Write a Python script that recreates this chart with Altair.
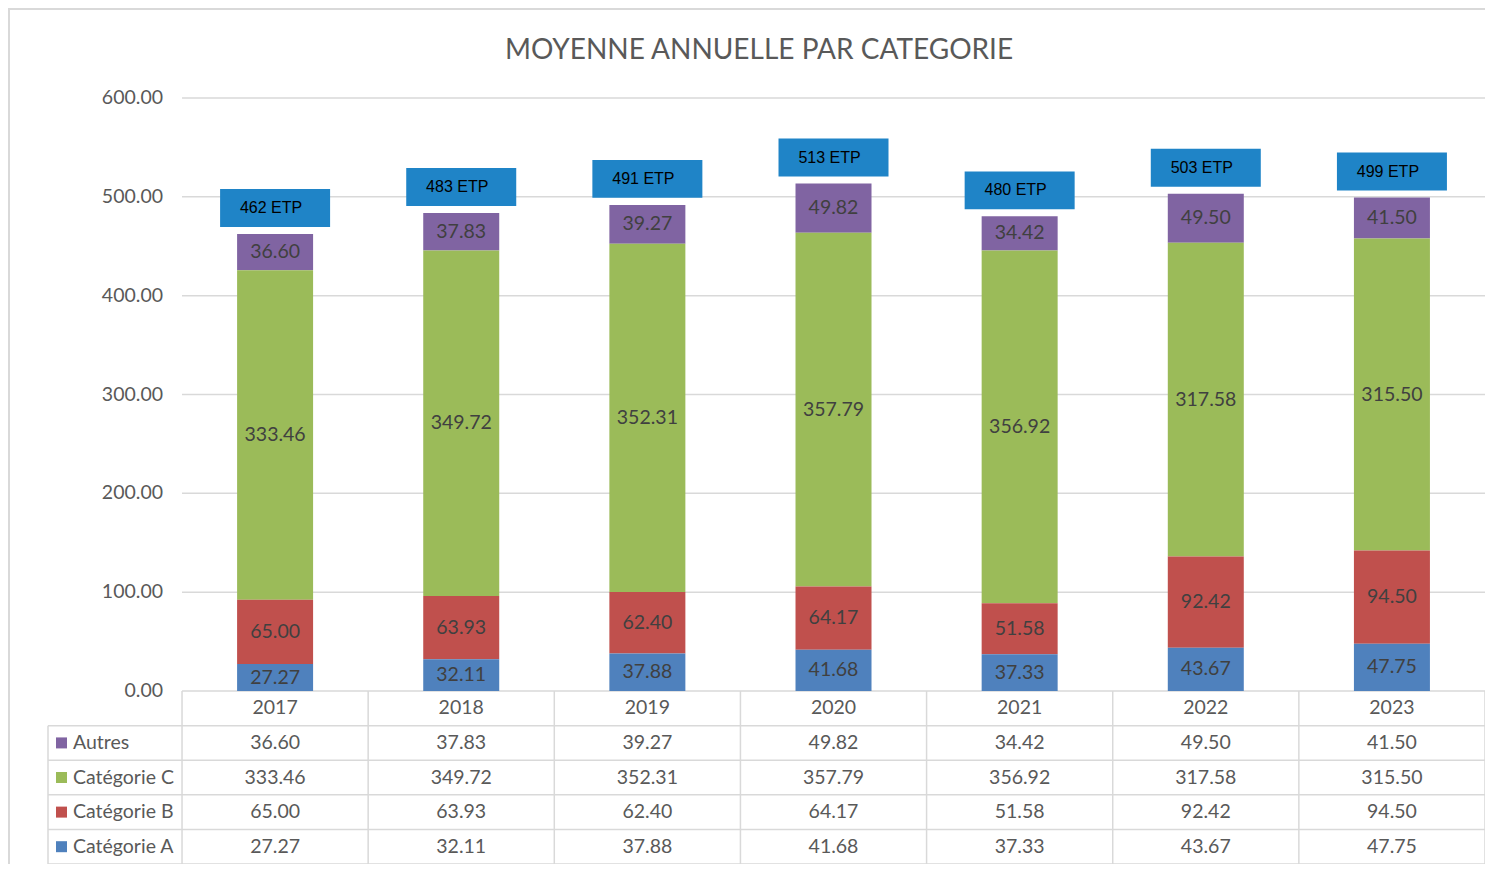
import altair as alt
import pandas as pd

years = [2017, 2018, 2019, 2020, 2021, 2022, 2023]
autres = [36.60, 37.83, 39.27, 49.82, 34.42, 49.50, 41.50]
cat_c = [333.46, 349.72, 352.31, 357.79, 356.92, 317.58, 315.50]
cat_b = [65.00, 63.93, 62.40, 64.17, 51.58, 92.42, 94.50]
cat_a = [27.27, 32.11, 37.88, 41.68, 37.33, 43.67, 47.75]
etp = [462, 483, 491, 513, 480, 503, 499]
y_ticks = [0, 100, 200, 300, 400, 500, 600]
title_text = "MOYENNE ANNUELLE PAR CATEGORIE"

categories = ["Autres", "Catégorie C", "Catégorie B", "Catégorie A"]
colors = ["#8064A2", "#9BBB59", "#C0504D", "#4F81BD"]
series = [autres, cat_c, cat_b, cat_a]

rows = []
for ci, (cat, vals) in enumerate(zip(categories, series)):
    for i, (yr, v) in enumerate(zip(years, vals)):
        rows.append({"year": yr, "idx": i, "category": cat, "value": v,
                     "row": ci + 1, "ord": 3 - ci})
long = pd.DataFrame(rows)

etp_df = pd.DataFrame({
    "year": years,
    "idx": list(range(len(years))),
    "label": [f"{e} ETP" for e in etp],
    "total": [a + b + c + d for a, b, c, d in zip(autres, cat_c, cat_b, cat_a)],
})
years_df = pd.DataFrame({"year": [str(y) for y in years], "idx": list(range(len(years)))})
header_df = pd.DataFrame({"category": categories, "row": [1, 2, 3, 4]})
grid_df = pd.DataFrame({"v": y_ticks})
title_df = pd.DataFrame({"t": [title_text]})

PAD_L, PAD_T = 40, 90
W, H = 1437, 766
XMIN, XMAX = -0.72, 7
YMIN, YMAX = -175, 600
ROW = 35
FONT = "Lato"
GRAY = "#595959"
LINE = "#D9D9D9"

xs = alt.Scale(domain=[XMIN, XMAX], nice=False, zero=False, padding=0)
ys = alt.Scale(domain=[YMIN, YMAX], nice=False, zero=False, padding=0)
cscale = alt.Scale(domain=categories, range=colors)

base = alt.Chart(long)

# gridlines (0..600)
grid = alt.Chart(grid_df).mark_rule(color=LINE, strokeWidth=1.5).encode(
    x=alt.datum(0, scale=xs, axis=None), x2=alt.datum(XMAX),
    y=alt.Y("v:Q", scale=ys, axis=None),
)
ylabels = alt.Chart(grid_df).mark_text(
    align="right", baseline="middle", dx=-19, font=FONT, fontSize=19.5, color=GRAY
).encode(
    x=alt.datum(0), y=alt.Y("v:Q"), text=alt.Text("v:Q", format=".2f")
)

stacked = base.transform_stack(
    stack="value", groupby=["year"], as_=["v0", "v1"], sort=[alt.SortField("ord")]
).transform_calculate(xc="datum.idx + 0.5", mid="(datum.v0 + datum.v1) / 2")

bars = stacked.mark_bar(size=76).encode(
    x=alt.X("xc:Q", scale=xs), y=alt.Y("v0:Q", scale=ys), y2="v1:Q",
    color=alt.Color("category:N", scale=cscale, legend=None),
)
bar_labels = stacked.mark_text(
    font=FONT, fontSize=19.5, color="#404040", baseline="middle"
).encode(
    x="xc:Q", y="mid:Q", text=alt.Text("value:Q", format=".2f")
)

etp_base = alt.Chart(etp_df).transform_calculate(xc="datum.idx + 0.5")
etp_box = etp_base.mark_point(
    shape="M-1,-0.345L1,-0.345L1,0.345L-1,0.345Z", size=12100,
    filled=True, opacity=1, color="#1F84C7", strokeWidth=0, yOffset=-26
).encode(x="xc:Q", y="total:Q")
etp_text = etp_base.mark_text(
    font="Liberation Sans", fontSize=16, color="#000000", baseline="middle",
    yOffset=-26, dx=-4
).encode(x="xc:Q", y="total:Q", text="label:N")

# table
h_lines_df = pd.DataFrame({"r": [1, 2, 3, 4, 5]})
h_lines = alt.Chart(h_lines_df).transform_calculate(
    yy=f"-{ROW} * datum.r"
).mark_rule(color=LINE, strokeWidth=1.5).encode(
    x=alt.datum(XMIN), x2=alt.datum(XMAX), y="yy:Q"
)
v_lines_df = pd.DataFrame({"c": list(range(len(years) + 1))})
v_lines = alt.Chart(v_lines_df).mark_rule(color=LINE, strokeWidth=1.5).encode(
    x="c:Q", y=alt.datum(0), y2=alt.datum(-5 * ROW)
)
v_left = alt.Chart(grid_df.head(1)).mark_rule(color=LINE, strokeWidth=1.5).encode(
    x=alt.datum(XMIN), y=alt.datum(-ROW), y2=alt.datum(-5 * ROW)
)
year_text = alt.Chart(years_df).transform_calculate(
    xc="datum.idx + 0.5"
).mark_text(font=FONT, fontSize=19.5, color=GRAY, baseline="middle").encode(
    x="xc:Q", y=alt.datum(-ROW / 2), text="year:N"
)
cell_text = base.transform_calculate(
    xc="datum.idx + 0.5", ty=f"-{ROW} * datum.row - {ROW / 2}"
).mark_text(font=FONT, fontSize=19.5, color=GRAY, baseline="middle").encode(
    x="xc:Q", y="ty:Q", text=alt.Text("value:Q", format=".2f")
)
hdr_base = alt.Chart(header_df).transform_calculate(
    ty=f"-{ROW} * datum.row - {ROW / 2}"
)
hdr_keys = hdr_base.mark_square(size=121, opacity=1, filled=True, xOffset=13.5).encode(
    x=alt.datum(XMIN), y="ty:Q",
    color=alt.Color("category:N", scale=cscale, legend=None),
)
hdr_text = hdr_base.mark_text(
    align="left", baseline="middle", dx=25, font=FONT, fontSize=19.5, color=GRAY
).encode(x=alt.datum(XMIN), y="ty:Q", text="category:N")

# title and outer frame
title = alt.Chart(title_df).mark_text(
    font=FONT, fontSize=28, color=GRAY, baseline="middle", align="center"
).encode(x=alt.value(711), y=alt.value(-47), text="t:N")
frame_top = alt.Chart(grid_df.head(1)).mark_rule(color=LINE, strokeWidth=2).encode(
    x=alt.value(-PAD_L), x2=alt.value(W), y=alt.value(-PAD_T + 1)
)
frame_left = alt.Chart(grid_df.head(1)).mark_rule(color=LINE, strokeWidth=2).encode(
    x=alt.value(-PAD_L + 1), y=alt.value(-PAD_T), y2=alt.value(H + 10)
)

chart = alt.layer(
    frame_top, frame_left, title, grid, ylabels, bars, bar_labels, etp_box, etp_text,
    h_lines, v_lines, v_left, year_text, cell_text, hdr_keys, hdr_text,
).properties(
    width=W, height=H,
    autosize=alt.AutoSizeParams(type="none"),
    padding={"left": PAD_L, "top": PAD_T, "right": 0, "bottom": 0},
).configure_view(stroke=None)

chart.save("out.html", embed_options={"renderer": "svg", "actions": False})
